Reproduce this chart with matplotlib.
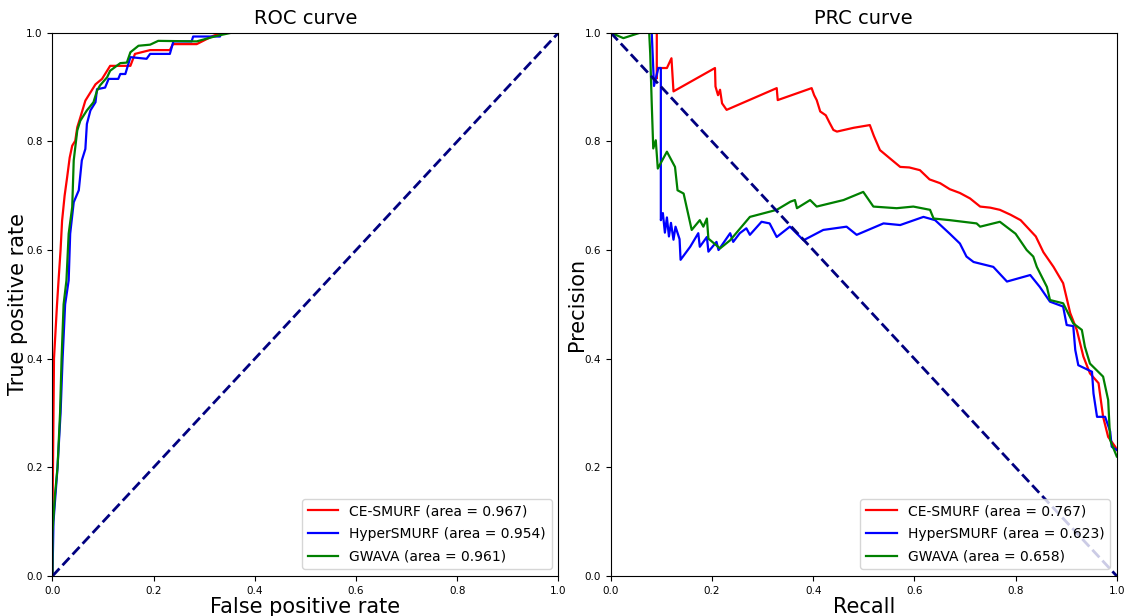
import numpy as np
import matplotlib
matplotlib.use('Agg')
import matplotlib.pyplot as plt

# ROC curves (fpr, tpr)
roc_labels = ['CE-SMURF (area = 0.967)', 'HyperSMURF (area = 0.954)', 'GWAVA (area = 0.961)']
prc_labels = ['CE-SMURF (area = 0.767)', 'HyperSMURF (area = 0.623)', 'GWAVA (area = 0.658)']
colors = ['red', 'blue', 'green']

ce_fpr = [0, 0, 0.001, 0.002, 0.003, 0.006, 0.009, 0.012, 0.016, 0.019, 0.024, 0.029, 0.034, 0.039,
          0.045, 0.049, 0.055, 0.065, 0.075, 0.085, 0.098, 0.108, 0.114, 0.154, 0.163, 0.193, 0.232,
          0.238, 0.285, 0.317, 0.334, 1.0]
ce_tpr = [0, 0.1, 0.2, 0.3, 0.4, 0.45, 0.5, 0.544, 0.6, 0.654, 0.7, 0.734, 0.77, 0.792,
          0.801, 0.826, 0.844, 0.875, 0.89, 0.905, 0.915, 0.93, 0.939, 0.939, 0.961, 0.968, 0.968,
          0.979, 0.979, 0.994, 1.0, 1.0]

hs_fpr = [0, 0.002, 0.006, 0.01, 0.016, 0.02, 0.025, 0.032, 0.035, 0.042, 0.052, 0.058, 0.065,
          0.068, 0.075, 0.085, 0.088, 0.104, 0.111, 0.13, 0.134, 0.144, 0.154, 0.186, 0.193,
          0.232, 0.239, 0.275, 0.278, 0.331, 0.334, 1.0]
hs_tpr = [0, 0.1, 0.15, 0.2, 0.3, 0.4, 0.5, 0.544, 0.63, 0.688, 0.71, 0.765, 0.786,
          0.832, 0.857, 0.872, 0.896, 0.899, 0.915, 0.915, 0.924, 0.924, 0.955, 0.952, 0.961,
          0.961, 0.984, 0.984, 0.993, 0.993, 1.0, 1.0]

gw_fpr = [0, 0, 0.005, 0.01, 0.015, 0.018, 0.022, 0.0276, 0.032, 0.039, 0.042, 0.049, 0.055,
          0.068, 0.081, 0.088, 0.094, 0.108, 0.114, 0.134, 0.147, 0.154, 0.17, 0.193, 0.209,
          0.285, 0.324, 0.354, 1.0]
gw_tpr = [0, 0.08, 0.15, 0.2, 0.3, 0.4, 0.5, 0.544, 0.63, 0.679, 0.765, 0.82, 0.838,
          0.857, 0.872, 0.893, 0.903, 0.918, 0.93, 0.944, 0.945, 0.964, 0.976, 0.978, 0.985,
          0.984, 0.994, 1.0, 1.0]

# PRC curves (recall, precision)
ce_rec = [0, 0.091, 0.091, 0.092, 0.111, 0.12, 0.124, 0.206, 0.207, 0.212, 0.216, 0.22, 0.229,
          0.328, 0.33, 0.397, 0.402, 0.407, 0.414, 0.425, 0.432, 0.44, 0.447, 0.48, 0.512, 0.52,
          0.532, 0.55, 0.572, 0.59, 0.611, 0.63, 0.651, 0.67, 0.69, 0.71, 0.73, 0.75, 0.769, 0.79,
          0.81, 0.84, 0.855, 0.875, 0.894, 0.908, 0.921, 0.934, 0.947, 0.964, 0.973, 0.983, 0.997, 1.0]
ce_prec = [1.0, 1.0, 0.916, 0.935, 0.935, 0.953, 0.892, 0.935, 0.901, 0.885, 0.895, 0.87, 0.858,
           0.898, 0.876, 0.898, 0.885, 0.876, 0.855, 0.848, 0.835, 0.821, 0.818, 0.825, 0.83, 0.81,
           0.784, 0.77, 0.753, 0.752, 0.747, 0.73, 0.723, 0.712, 0.705, 0.695, 0.68, 0.678, 0.674, 0.665,
           0.655, 0.625, 0.596, 0.569, 0.539, 0.484, 0.453, 0.404, 0.373, 0.355, 0.293, 0.256, 0.238, 0.232]

hs_rec = [0, 0.081, 0.0855, 0.094, 0.099, 0.099, 0.103, 0.107, 0.111, 0.115, 0.119, 0.124, 0.128,
          0.136, 0.138, 0.157, 0.173, 0.176, 0.19, 0.193, 0.209, 0.213, 0.236, 0.242, 0.255, 0.268,
          0.275, 0.298, 0.314, 0.328, 0.354, 0.381, 0.42, 0.466, 0.486, 0.539, 0.572, 0.618, 0.641,
          0.67, 0.69, 0.703, 0.717, 0.756, 0.783, 0.829, 0.848, 0.868, 0.894, 0.901, 0.914, 0.918,
          0.924, 0.951, 0.954, 0.961, 0.977, 0.987, 0.99, 1.0]
hs_prec = [1.0, 1.0, 0.902, 0.935, 0.935, 0.655, 0.668, 0.632, 0.66, 0.625, 0.65, 0.619, 0.643,
           0.62, 0.582, 0.606, 0.631, 0.606, 0.624, 0.597, 0.615, 0.6, 0.631, 0.615, 0.631, 0.64,
           0.628, 0.652, 0.649, 0.624, 0.643, 0.618, 0.637, 0.643, 0.628, 0.649, 0.646, 0.661, 0.655,
           0.63, 0.612, 0.588, 0.578, 0.569, 0.542, 0.554, 0.532, 0.505, 0.496, 0.462, 0.46, 0.416,
           0.388, 0.376, 0.336, 0.293, 0.293, 0.266, 0.238, 0.232]

gw_rec = [0, 0.025, 0.058, 0.076, 0.078, 0.081, 0.084, 0.089, 0.093, 0.111, 0.127, 0.132, 0.144,
          0.16, 0.176, 0.183, 0.19, 0.193, 0.216, 0.236, 0.275, 0.328, 0.355, 0.364, 0.368, 0.394,
          0.407, 0.46, 0.499, 0.519, 0.565, 0.598, 0.631, 0.638, 0.67, 0.723, 0.73, 0.769, 0.8,
          0.822, 0.835, 0.842, 0.862, 0.868, 0.894, 0.914, 0.931, 0.937, 0.947, 0.973, 0.983, 0.987, 1.0]
gw_prec = [1.0, 0.99, 1.0, 1.0, 0.962, 0.87, 0.787, 0.802, 0.75, 0.781, 0.753, 0.71, 0.704,
           0.637, 0.655, 0.643, 0.658, 0.621, 0.603, 0.618, 0.661, 0.674, 0.689, 0.692, 0.677, 0.692,
           0.68, 0.692, 0.707, 0.68, 0.677, 0.68, 0.674, 0.658, 0.655, 0.649, 0.643, 0.652, 0.63,
           0.6, 0.588, 0.569, 0.532, 0.508, 0.502, 0.465, 0.453, 0.422, 0.391, 0.367, 0.324, 0.25, 0.22]

roc_curves = [(ce_fpr, ce_tpr), (hs_fpr, hs_tpr), (gw_fpr, gw_tpr)]
prc_curves = [(ce_rec, ce_prec), (hs_rec, hs_prec), (gw_rec, gw_prec)]

fig = plt.figure(figsize=(11.26, 6.16), dpi=100)
ax1 = fig.add_axes([0.0466, 0.0649, 0.4494, 0.882])
ax2 = fig.add_axes([0.5424, 0.0649, 0.4494, 0.882])

for (x, y), c, lab in zip(roc_curves, colors, roc_labels):
    ax1.plot(x, y, color=c, lw=1.6, label=lab)
ax1.plot([0, 1], [0, 1], color='navy', lw=2, linestyle='--')
ax1.set_title('ROC curve', fontsize=14)
ax1.set_xlabel('False positive rate', fontsize=15, labelpad=1)
ax1.set_ylabel('True positive rate', fontsize=15, labelpad=-1.5)

for (x, y), c, lab in zip(prc_curves, colors, prc_labels):
    ax2.plot(x, y, color=c, lw=1.6, label=lab)
ax2.plot([0, 1], [1, 0], color='navy', lw=2, linestyle='--')
ax2.set_title('PRC curve', fontsize=14)
ax2.set_xlabel('Recall', fontsize=15, labelpad=1)
ax2.set_ylabel('Precision', fontsize=15, labelpad=-1.5)

for ax in (ax1, ax2):
    ax.set_xlim(0, 1)
    ax.set_ylim(0, 1)
    ax.set_xticks(np.arange(0, 1.01, 0.2))
    ax.set_yticks(np.arange(0, 1.01, 0.2))
    ax.tick_params(labelsize=7.5)
    ax.legend(loc='lower right', fontsize=10, labelspacing=0.62, handlelength=2.2)

fig.savefig('out.png', dpi=100)
